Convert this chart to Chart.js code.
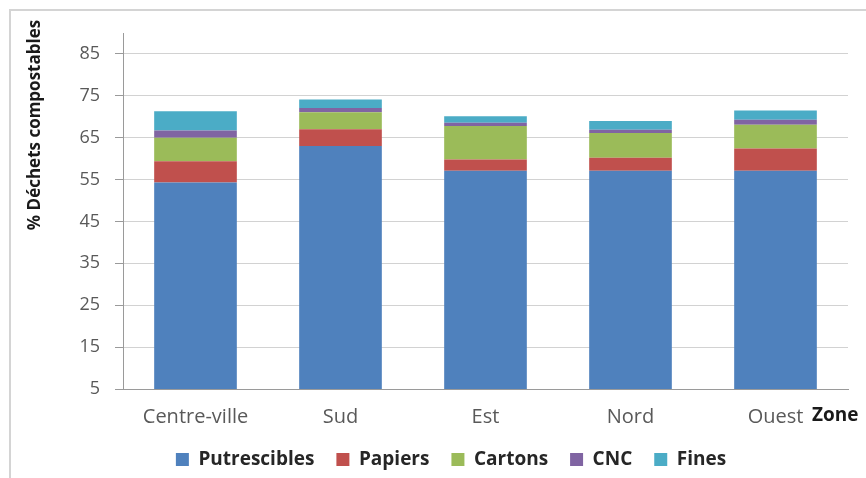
<!DOCTYPE html>
<html>
<head>
<meta charset="utf-8">
<script src="https://cdn.jsdelivr.net/npm/chart.js@4/dist/chart.umd.min.js"></script>
<style>
  html, body { margin: 0; padding: 0; background: #ffffff; }
  #wrap { width: 866px; height: 478px; position: relative; }
</style>
</head>
<body>
<div id="wrap"><canvas id="c" width="866" height="478"></canvas></div>
<script>
// Zones and composition of compostable waste (% of total), stacked per zone
const zones = ['Centre-ville', 'Sud', 'Est', 'Nord', 'Ouest'];
const putrescibles = [54.3, 63.0, 57.1, 57.1, 57.1];
const papiers      = [5.1, 4.0, 2.7, 3.1, 5.3];
const cartons      = [5.6, 4.1, 8.0, 5.9, 5.7];
const cnc          = [1.7, 1.0, 0.8, 0.8, 1.2];
const fines        = [4.6, 2.0, 1.5, 2.1, 2.2];
const yTicks = [5, 15, 25, 35, 45, 55, 65, 75, 85];

const FONT = '"Open Sans", "Liberation Sans", sans-serif';

// Outer frame, y-axis title and the "Zone" caption
const decorations = {
  id: 'decorations',
  beforeDraw(chart) {
    const ctx = chart.ctx;
    ctx.save();
    ctx.fillStyle = '#ffffff';
    ctx.fillRect(0, 0, chart.width, chart.height);
    ctx.strokeStyle = '#d4d4d4';
    ctx.lineWidth = 2;
    ctx.beginPath();
    ctx.moveTo(10, chart.height);
    ctx.lineTo(10, 10);
    ctx.lineTo(chart.width, 10);
    ctx.stroke();
    ctx.restore();
  },
  afterDraw(chart) {
    const ctx = chart.ctx;
    ctx.save();
    ctx.fillStyle = '#1a1a1a';
    ctx.font = 'bold 17px ' + FONT;
    ctx.textAlign = 'center';
    ctx.textBaseline = 'middle';
    ctx.translate(35, 125);
    ctx.rotate(-Math.PI / 2);
    ctx.fillText('% Déchets compostables', 0, 0);
    ctx.restore();

    ctx.save();
    ctx.fillStyle = '#1a1a1a';
    ctx.font = 'bold 19px ' + FONT;
    ctx.textAlign = 'left';
    ctx.textBaseline = 'middle';
    ctx.fillText('Zone', 812, chart.scales.x.top + 27);
    ctx.restore();
  }
};

const ds = (label, data, color) => ({
  label, data,
  backgroundColor: color,
  borderWidth: 0,
  barPercentage: 0.57,
  categoryPercentage: 1.0
});

new Chart(document.getElementById('c'), {
  type: 'bar',
  data: {
    labels: zones,
    datasets: [
      ds('Putrescibles', putrescibles, '#4F81BD'),
      ds('Papiers', papiers, '#C0504D'),
      ds('Cartons', cartons, '#9BBB59'),
      ds('CNC', cnc, '#8064A2'),
      ds('Fines', fines, '#4BACC6')
    ]
  },
  options: {
    responsive: false,
    animation: false,
    events: [],
    layout: { padding: { left: 54, right: 18, top: 33, bottom: -1 } },
    plugins: {
      tooltip: { enabled: false },
      legend: {
        position: 'bottom',
        labels: {
          boxWidth: 13,
          boxHeight: 13,
          padding: 22,
          color: '#262626',
          font: { family: FONT, size: 19, weight: 'bold' }
        }
      }
    },
    scales: {
      x: {
        stacked: true,
        grid: { display: true, drawOnChartArea: false, drawTicks: false },
        border: { display: true, color: '#9a9a9a', width: 1 },
        ticks: {
          padding: 16,
          color: '#595959',
          font: { family: FONT, size: 20 }
        },
        afterFit(scale) { scale.height = 39; }
      },
      y: {
        stacked: true,
        min: 5,
        max: 90,
        afterBuildTicks(scale) { scale.ticks = yTicks.map(v => ({ value: v })); },
        grid: { color: '#d2d2d2', lineWidth: 1, tickLength: 8, tickColor: '#9a9a9a' },
        border: { display: true, color: '#9a9a9a', width: 1 },
        ticks: {
          padding: 15,
          color: '#595959',
          font: { family: FONT, size: 18 }
        },
        afterFit(scale) { scale.width = 69; }
      }
    }
  },
  plugins: [decorations]
});
</script>
</body>
</html>
